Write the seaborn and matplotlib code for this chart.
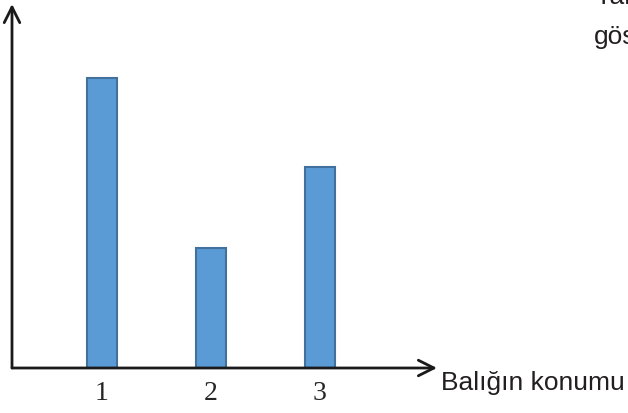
import matplotlib
matplotlib.use("Agg")
import matplotlib.pyplot as plt
import seaborn as sns
import pandas as pd

categories = ["1", "2", "3"]
values = [29.0, 12.0, 20.1]
xlabel = "Balığın konumu"
corner_lines = ["Yan", "gös"]

sns.set_style("white")
plt.rcParams['font.family'] = ['Liberation Sans', 'DejaVu Sans']

W, H = 628, 414
fig = plt.figure(figsize=(W / 100, H / 100), dpi=100)
ax_left, ax_right, ax_top, ax_bottom = 12, 437, 5, 369
ax = fig.add_axes([ax_left / W, (H - ax_bottom) / H,
                   (ax_right - ax_left) / W, (ax_bottom - ax_top) / H])

df = pd.DataFrame({"pos": categories, "val": values})
sns.barplot(data=df, x="pos", y="val", ax=ax, color="#5B9BD5",
            width=0.27, edgecolor="#41719C", linewidth=1.5, saturation=1)

spacing = 109.0
ax.set_xlim(-(102 - ax_left) / spacing, (ax_right - 102) / spacing)
ax.set_ylim(0, (ax_bottom - ax_top) / 10)
for s in ax.spines.values():
    s.set_visible(False)
ax.set_yticks([])
ax.set_xlabel("")
ax.set_ylabel("")
ax.tick_params(axis="x", length=0, pad=9)
for lbl in ax.get_xticklabels():
    lbl.set_fontfamily("Liberation Serif")
    lbl.set_fontsize(20)

arrow_kw = dict(arrowstyle="->", color="#1a1a1a", lw=2, mutation_scale=28,
                shrinkA=0, shrinkB=0)
ax.annotate("", xy=(0, 1), xytext=(0, 0), xycoords="axes fraction",
            arrowprops=arrow_kw, annotation_clip=False)
ax.annotate("", xy=(1, 0), xytext=(0, 0), xycoords="axes fraction",
            arrowprops=arrow_kw, annotation_clip=False)

fig.text(441 / W, 1 - 383 / H, xlabel, fontsize=19, color="#231f20",
         va="center", ha="left")
fig.text(594 / W, 1 - 4 / H, corner_lines[0], fontsize=19, color="#231f20",
         va="baseline", ha="left")
fig.text(594 / W, 1 - 44 / H, corner_lines[1], fontsize=19, color="#231f20",
         va="baseline", ha="left")

fig.savefig("out.png", dpi=100)
